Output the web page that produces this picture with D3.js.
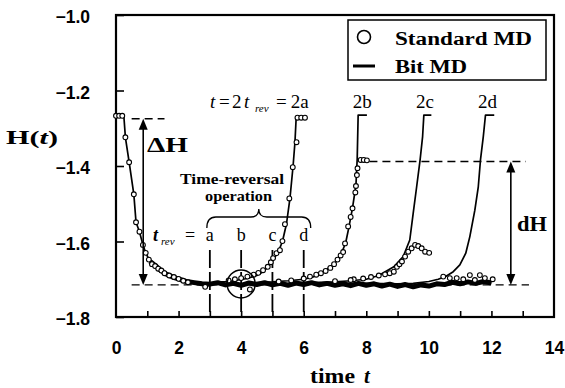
<!DOCTYPE html>
<html>
<head>
<meta charset="utf-8">
<script src="https://cdn.jsdelivr.net/npm/d3@7"></script>
<style>
  body { margin: 0; background: #fff; }
  text { fill: #000; }
</style>
</head>
<body>
<svg id="chart" width="565" height="388"></svg>
<script>
// ---- data ----
const xTicks = [0, 2, 4, 6, 8, 10, 12, 14];
const xMinor = [1, 2, 3, 4, 5, 6, 7, 8, 9, 10, 11, 12, 13];
const yTicks = [-1.0, -1.2, -1.4, -1.6, -1.8];
const tRev = [3, 4, 5, 6];
const tRevNames = ["a", "b", "c", "d"];
const returnNames = ["2a", "2b", "2c", "2d"];

// Bit MD, forward run
const bitFwd = [
  [0, -1.267], [0.25, -1.267], [0.3, -1.324], [0.42, -1.39], [0.57, -1.475],
  [0.64, -1.549], [0.75, -1.574], [0.86, -1.609], [0.95, -1.63], [1.09, -1.653],
  [1.26, -1.664], [1.41, -1.675], [1.6, -1.686], [1.83, -1.695], [2.0, -1.699],
  [2.26, -1.706], [2.5, -1.709], [2.75, -1.712], [3.0, -1.713], [3.25, -1.709],
  [3.5, -1.715], [3.75, -1.711], [4.0, -1.716], [4.25, -1.71], [4.5, -1.714],
  [4.75, -1.709], [5.0, -1.715], [5.25, -1.711], [5.5, -1.716], [5.75, -1.71],
  [6.0, -1.714], [6.25, -1.709], [6.5, -1.715], [6.75, -1.711], [7.0, -1.716],
  [7.25, -1.712], [7.5, -1.717], [7.75, -1.711], [8.0, -1.716], [8.25, -1.712],
  [8.5, -1.718], [8.75, -1.713], [9.0, -1.719], [9.25, -1.714], [9.5, -1.72],
  [9.75, -1.715], [10.0, -1.718], [10.25, -1.712], [10.5, -1.714], [10.75, -1.708],
  [11.0, -1.712], [11.25, -1.707], [11.5, -1.711], [11.75, -1.706], [12.0, -1.71]
];

// Bit MD, reversed at t_rev = a, b, c, d
const bitRevA = [
  [3.0, -1.711], [3.3, -1.707], [3.6, -1.706], [3.9, -1.702], [4.2, -1.698],
  [4.5, -1.69], [4.7, -1.68], [4.86, -1.667], [5.05, -1.645], [5.2, -1.625],
  [5.32, -1.6], [5.45, -1.553], [5.56, -1.486], [5.66, -1.4], [5.72, -1.337],
  [5.76, -1.27], [6.02, -1.27]
];
const bitRevB = [
  [4.0, -1.712], [4.5, -1.709], [5.0, -1.707], [5.5, -1.704], [6.0, -1.7],
  [6.3, -1.694], [6.62, -1.68], [6.94, -1.662], [7.1, -1.647], [7.21, -1.63],
  [7.34, -1.604], [7.44, -1.564], [7.56, -1.511], [7.67, -1.45], [7.71, -1.38],
  [7.74, -1.265], [8.02, -1.265]
];
const bitRevC = [
  [5.0, -1.712], [5.5, -1.711], [6.0, -1.709], [6.5, -1.708], [7.0, -1.707],
  [7.5, -1.704], [8.0, -1.7], [8.4, -1.69], [8.88, -1.667], [9.18, -1.64],
  [9.39, -1.596], [9.5, -1.525], [9.61, -1.455], [9.72, -1.384], [9.8, -1.322],
  [9.84, -1.265], [10.08, -1.265]
];
const bitRevD = [
  [6.0, -1.712], [7.0, -1.711], [8.0, -1.711], [9.0, -1.712], [9.5, -1.711],
  [10.0, -1.706], [10.3, -1.7], [10.55, -1.692], [10.78, -1.68], [10.99, -1.662],
  [11.18, -1.631], [11.31, -1.587], [11.47, -1.517], [11.58, -1.455], [11.65, -1.384],
  [11.74, -1.322], [11.81, -1.265], [12.09, -1.265]
];

// Standard MD (circles)
const stdFwd = [
  [0, -1.267], [0.1, -1.267], [0.2, -1.267], [0.3, -1.324], [0.42, -1.39],
  [0.57, -1.475], [0.64, -1.549], [0.75, -1.574], [0.86, -1.609], [0.95, -1.63],
  [1.05, -1.648], [1.15, -1.66], [1.25, -1.665], [1.35, -1.672], [1.45, -1.677],
  [1.55, -1.684], [1.7, -1.69], [1.85, -1.694], [2.0, -1.699], [2.15, -1.704],
  [2.3, -1.708], [2.85, -1.72], [4.28, -1.727], [7.6, -1.7]
];
const stdRevA = [
  [3.6, -1.703], [3.8, -1.7], [4.0, -1.697], [4.2, -1.693], [4.4, -1.688],
  [4.55, -1.683], [4.7, -1.676], [4.85, -1.667], [4.95, -1.655], [5.02, -1.644],
  [5.13, -1.631], [5.24, -1.623], [5.32, -1.599], [5.4, -1.554], [5.54, -1.486],
  [5.65, -1.403], [5.77, -1.337], [5.8, -1.272], [5.92, -1.272], [6.04, -1.272]
];
const stdRevB = [
  [5.2, -1.706], [5.6, -1.703], [6.0, -1.698], [6.2, -1.693], [6.4, -1.688],
  [6.55, -1.684], [6.7, -1.678], [6.85, -1.67], [6.97, -1.66], [7.08, -1.648],
  [7.18, -1.637], [7.26, -1.628], [7.32, -1.605], [7.42, -1.56], [7.5, -1.535],
  [7.56, -1.512], [7.65, -1.47], [7.67, -1.453], [7.7, -1.424], [7.72, -1.406],
  [7.82, -1.384], [7.92, -1.384], [8.02, -1.385]
];
const stdRevC = [
  [7.0, -1.705], [7.5, -1.702], [7.9, -1.698], [8.15, -1.694], [8.4, -1.69],
  [8.6, -1.687], [8.75, -1.684], [8.88, -1.68], [8.98, -1.667], [9.06, -1.66],
  [9.14, -1.653], [9.24, -1.64], [9.34, -1.627], [9.45, -1.618], [9.56, -1.609],
  [9.66, -1.612], [9.77, -1.618], [9.88, -1.627], [10.01, -1.63]
];
const stdRevD = [
  [10.46, -1.693], [10.67, -1.697], [10.89, -1.697], [11.1, -1.7], [11.31, -1.689],
  [11.47, -1.702], [11.63, -1.689], [11.79, -1.697], [12.04, -1.7]
];

// reference levels
const hStart = -1.275;   // top of ΔH
const hEquil = -1.715;   // bottom dashed level
const hStdB = -1.388;    // level reached by standard MD at 2b (dH)

// ---- drawing ----
const M = { left: 116, right: 554, top: 15, bottom: 317 };
const SERIF = "'Liberation Serif', 'Times New Roman', serif";
const SANS = "'Liberation Sans', Arial, sans-serif";

const svg = d3.select("#chart");
const x = d3.scaleLinear().domain([0, 14]).range([M.left, M.right]);
const y = d3.scaleLinear().domain([-1.8, -1.0]).range([M.bottom, M.top]);

// axes (inward ticks)
const xAxis = svg.append("g")
  .attr("transform", `translate(0,${M.bottom})`)
  .call(d3.axisBottom(x).tickValues(xMinor).tickSize(-6).tickFormat(""));
xAxis.select(".domain").remove();
xAxis.selectAll("line").attr("stroke", "#000").attr("stroke-width", 1.6);

const xLab = svg.append("g")
  .attr("transform", `translate(0,${M.bottom})`)
  .call(d3.axisBottom(x).tickValues(xTicks).tickSize(0).tickPadding(25).tickFormat(d3.format("d")));
xLab.select(".domain").remove();
xLab.selectAll("text")
  .attr("font-family", SANS).attr("font-weight", "bold").attr("font-size", 17.5);

const yAxis = svg.append("g")
  .attr("transform", `translate(${M.left},0)`)
  .call(d3.axisLeft(y).tickValues(yTicks).tickSize(-8).tickPadding(26).tickFormat(d3.format(".1f")));
yAxis.select(".domain").remove();
yAxis.selectAll("line").attr("stroke", "#000").attr("stroke-width", 1.6);
yAxis.selectAll("text")
  .attr("dy", "0.45em")
  .attr("font-family", SANS).attr("font-weight", "bold").attr("font-size", 17.5);

// frame
svg.append("rect")
  .attr("x", M.left).attr("y", M.top)
  .attr("width", M.right - M.left).attr("height", M.bottom - M.top)
  .attr("fill", "none").attr("stroke", "#000").attr("stroke-width", 2.2);

// dashed reference levels
function hDash(t0, t1, h) {
  svg.append("line")
    .attr("x1", x(t0)).attr("x2", x(t1)).attr("y1", y(h)).attr("y2", y(h))
    .attr("stroke", "#000").attr("stroke-width", 1.4).attr("stroke-dasharray", "8,5");
}
hDash(0.5, 1.55, hStart);
hDash(0.5, 13.2, hEquil);
hDash(8.1, 13.1, hStdB);

// t_rev vertical dashed markers
svg.selectAll(".mark").data(tRev).enter().append("line")
  .attr("class", "mark")
  .attr("x1", d => x(d)).attr("x2", d => x(d))
  .attr("y1", 250).attr("y2", M.bottom)
  .attr("stroke", "#000").attr("stroke-width", 1.8).attr("stroke-dasharray", "18,4");

// lines (Bit MD)
const line = d3.line().x(d => x(d[0])).y(d => y(d[1]));
const bitAll = [bitFwd, bitRevA, bitRevB, bitRevC, bitRevD];
// the noisy plateau shows as a thick band
svg.append("path")
  .datum(bitFwd.filter(d => d[0] >= 1.0))
  .attr("d", line).attr("fill", "none")
  .attr("stroke", "#000").attr("stroke-width", 5).attr("stroke-linejoin", "round");
svg.selectAll(".bit").data(bitAll).enter().append("path")
  .attr("class", "bit")
  .attr("d", line).attr("fill", "none")
  .attr("stroke", "#000").attr("stroke-width", 1.7).attr("stroke-linejoin", "round");

// circles (Standard MD)
const stdAll = [].concat(stdFwd, stdRevA, stdRevB, stdRevC, stdRevD);
svg.selectAll(".std").data(stdAll).enter().append("circle")
  .attr("class", "std")
  .attr("cx", d => x(d[0])).attr("cy", d => y(d[1])).attr("r", 2.4)
  .attr("fill", "#fff").attr("stroke", "#000").attr("stroke-width", 1.1);

// ring around b
svg.append("circle")
  .attr("cx", x(tRev[1])).attr("cy", y(hEquil) - 1).attr("r", 14)
  .attr("fill", "none").attr("stroke", "#000").attr("stroke-width", 1.5);

// arrows
function vArrow(t, hTop, hBot) {
  const xx = x(t), y0 = y(hTop), y1 = y(hBot);
  svg.append("line").attr("x1", xx).attr("x2", xx).attr("y1", y0 + 6).attr("y2", y1 - 6)
    .attr("stroke", "#000").attr("stroke-width", 1.6);
  svg.append("path").attr("d", `M${xx},${y0} L${xx - 4.5},${y0 + 11} L${xx + 4.5},${y0 + 11} Z`);
  svg.append("path").attr("d", `M${xx},${y1} L${xx - 4.5},${y1 - 11} L${xx + 4.5},${y1 - 11} Z`);
}
vArrow(0.87, hStart, hEquil);
vArrow(12.62, hStdB, hEquil);

// brace over the t_rev markers
const bl = x(tRev[0]) - 3, br = x(tRev[3]) + 7, bc = (bl + br) / 2;
svg.append("path")
  .attr("d", `M${bl},228 Q${bl},217 ${bl + 9},217 L${bc - 8},217 Q${bc},217 ${bc},209
              Q${bc},217 ${bc + 8},217 L${br - 9},217 Q${br},217 ${br},228`)
  .attr("fill", "none").attr("stroke", "#000").attr("stroke-width", 1.3);

// texts
function txt(xp, yp, s, opt = {}) {
  return svg.append("text")
    .attr("x", xp).attr("y", yp).text(s)
    .attr("font-family", opt.family || SERIF)
    .attr("font-size", opt.size || 17)
    .attr("font-weight", opt.weight || "normal")
    .attr("font-style", opt.style || "normal")
    .attr("text-anchor", opt.anchor || "start");
}

txt(180, 184, "Time-reversal", { weight: "bold", size: 15 })
  .attr("textLength", 104).attr("lengthAdjust", "spacingAndGlyphs");
txt(205, 201, "operation", { weight: "bold", size: 15 })
  .attr("textLength", 67).attr("lengthAdjust", "spacingAndGlyphs");

// t_rev = a b c d
const trl = svg.append("text").attr("y", 241).attr("font-family", SERIF).attr("font-size", 18);
trl.append("tspan").attr("x", 153).attr("font-weight", "bold").attr("font-style", "italic").text("t");
trl.append("tspan").attr("x", 161).attr("dy", 4).attr("font-size", 11).attr("font-style", "italic").text("rev");
trl.append("tspan").attr("x", 185).attr("dy", -4).text("=");
svg.selectAll(".trn").data(tRev).enter().append("text")
  .attr("class", "trn")
  .attr("x", d => x(d)).attr("y", 241)
  .attr("text-anchor", "middle").attr("font-family", SERIF).attr("font-size", 18)
  .text((d, i) => tRevNames[i]);

// t=2t_rev = 2a, 2b, 2c, 2d
const t2 = svg.append("text").attr("y", 108).attr("font-family", SERIF).attr("font-size", 19);
t2.append("tspan").attr("x", 210).attr("font-style", "italic").text("t");
t2.append("tspan").attr("x", 219).text("=");
t2.append("tspan").attr("x", 232).text("2");
t2.append("tspan").attr("x", 244).attr("font-style", "italic").text("t");
t2.append("tspan").attr("x", 255).attr("dy", 4).attr("font-size", 11).attr("font-style", "italic").text("rev");
t2.append("tspan").attr("x", 276).attr("dy", -4).text("=");
svg.selectAll(".ret").data(tRev).enter().append("text")
  .attr("class", "ret")
  .attr("x", d => x(2 * d) - 4).attr("y", 108)
  .attr("text-anchor", "middle").attr("font-family", SERIF).attr("font-size", 19)
  .text((d, i) => returnNames[i]);

txt(147, 152, "\u0394H", { weight: "bold", size: 20 }).attr("textLength", 41).attr("lengthAdjust", "spacingAndGlyphs");
txt(517, 231, "dH", { weight: "bold", size: 20 }).attr("textLength", 30).attr("lengthAdjust", "spacingAndGlyphs");

// axis titles
const yt = svg.append("text").attr("x", 6).attr("y", 144)
  .attr("font-family", SERIF).attr("font-size", 19).attr("font-weight", "bold")
  .attr("textLength", 52).attr("lengthAdjust", "spacingAndGlyphs");
yt.append("tspan").text("H(");
yt.append("tspan").attr("font-style", "italic").text("t");
yt.append("tspan").text(")");

txt(310, 383, "time", { weight: "bold", size: 21 }).attr("textLength", 45).attr("lengthAdjust", "spacingAndGlyphs");
txt(364, 383, "t", { weight: "bold", size: 21, style: "italic" });

// legend
svg.append("rect").attr("x", 348).attr("y", 20).attr("width", 198).attr("height", 60)
  .attr("fill", "#fff").attr("stroke", "#000").attr("stroke-width", 1.5);
svg.append("circle").attr("cx", 364).attr("cy", 37).attr("r", 6.5)
  .attr("fill", "#fff").attr("stroke", "#000").attr("stroke-width", 1.6);
svg.append("line").attr("x1", 353).attr("x2", 375).attr("y1", 66).attr("y2", 66)
  .attr("stroke", "#000").attr("stroke-width", 3);
txt(395, 45, "Standard MD", { weight: "bold", size: 18.5 }).attr("textLength", 137).attr("lengthAdjust", "spacingAndGlyphs");
txt(395, 73, "Bit MD", { weight: "bold", size: 18.5 }).attr("textLength", 72).attr("lengthAdjust", "spacingAndGlyphs");
</script>
</body>
</html>
